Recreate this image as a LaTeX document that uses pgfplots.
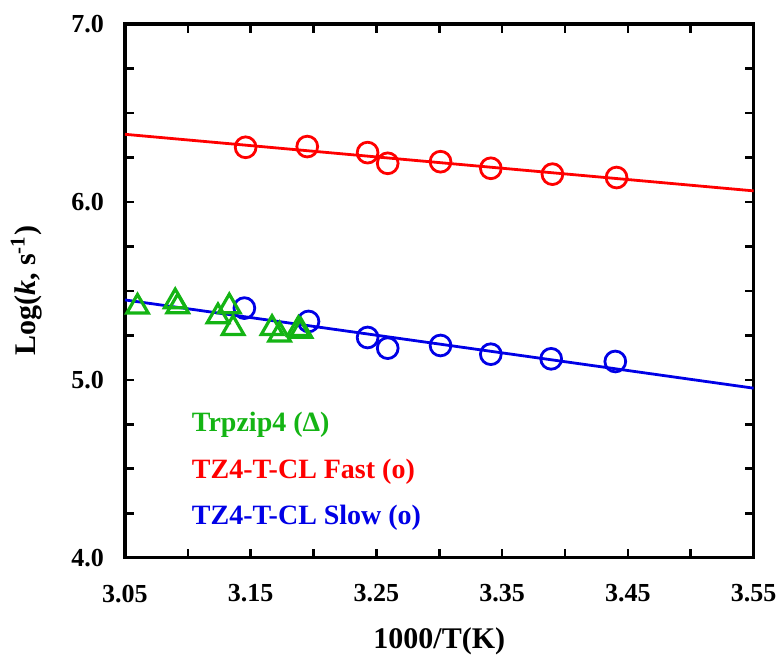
\documentclass[border=0pt]{standalone}
\usepackage{fontspec}
\setmainfont{Liberation Serif}
\usepackage{pgfplots}
\pgfplotsset{compat=1.18}
\definecolor{myred}{RGB}{255,0,0}
\definecolor{myblue}{RGB}{0,0,230}
\definecolor{mygreen}{RGB}{20,180,20}
\begin{document}
\begin{tikzpicture}
\begin{axis}[
  scale only axis,
  width=314.5pt, height=267pt,
  xmin=3.05, xmax=3.55, ymin=4, ymax=7,
  xtick={3.05,3.15,3.25,3.35,3.45,3.55},
  xticklabels={3.05,3.15,3.25,3.35,3.45,3.55},
  minor x tick num=1,
  ytick={4,5,6,7},
  yticklabels={4.0,5.0,6.0,7.0},
  minor y tick num=3,
  tick align=inside,
  major tick length=4.5pt, minor tick length=4.5pt,
  every tick/.style={black, line width=1.3pt},
  axis line style={line width=1.6pt},
  ticklabel style={font=\fontsize{13}{15}\selectfont\bfseries},
  xticklabel style={yshift=-10pt},
  yticklabel style={xshift=-7pt},
  xlabel={\fontsize{15}{17}\selectfont\bfseries 1000/T(K)},
  ylabel={\fontsize{15}{17}\selectfont\bfseries Log(\textit{k}, s\textsuperscript{-1})},
  xlabel style={yshift=-6pt},
  ylabel style={yshift=8pt},
  clip=false,
]
% fit lines
\addplot[myred, line width=1.4pt] coordinates {(3.05,6.380) (3.55,6.062)};
\addplot[myblue, line width=1.4pt] coordinates {(3.05,5.449) (3.55,4.953)};
% fast
\addplot[only marks, mark=o, mark size=5.2pt, myred, line width=1.4pt] coordinates {
(3.146,6.307) (3.195,6.311) (3.243,6.277) (3.259,6.217)
(3.301,6.226) (3.341,6.189) (3.390,6.156) (3.441,6.137)};
% slow
\addplot[only marks, mark=o, mark size=5.2pt, myblue, line width=1.4pt] coordinates {
(3.145,5.403) (3.196,5.328) (3.243,5.238) (3.259,5.178)
(3.301,5.193) (3.341,5.144) (3.389,5.118) (3.440,5.103)};
% trpzip4
\addplot[only marks, mark=triangle, mark size=6.2pt, mygreen, line width=1.6pt] coordinates {
(3.060,5.410) (3.090,5.440) (3.092,5.412) (3.124,5.356) (3.133,5.412)
(3.136,5.290) (3.167,5.290) (3.173,5.253) (3.188,5.284) (3.190,5.274)};
\node[anchor=west, inner sep=0pt, text=mygreen, font=\fontsize{14}{16}\selectfont\bfseries] at (axis cs:3.103,4.747) {Trpzip4 (Δ)};
\node[anchor=west, inner sep=0pt, text=myred, font=\fontsize{14}{16}\selectfont\bfseries] at (axis cs:3.103,4.483) {TZ4-T-CL Fast (o)};
\node[anchor=west, inner sep=0pt, text=myblue, font=\fontsize{14}{16}\selectfont\bfseries] at (axis cs:3.103,4.225) {TZ4-T-CL Slow (o)};
\coordinate (ll) at (rel axis cs:0,0);
\coordinate (ur) at (rel axis cs:1,1);
\end{axis}
\path (ll) ++(-62.5pt,-51.5pt) (ur) ++(14.5pt,12pt);
\end{tikzpicture}
\end{document}
